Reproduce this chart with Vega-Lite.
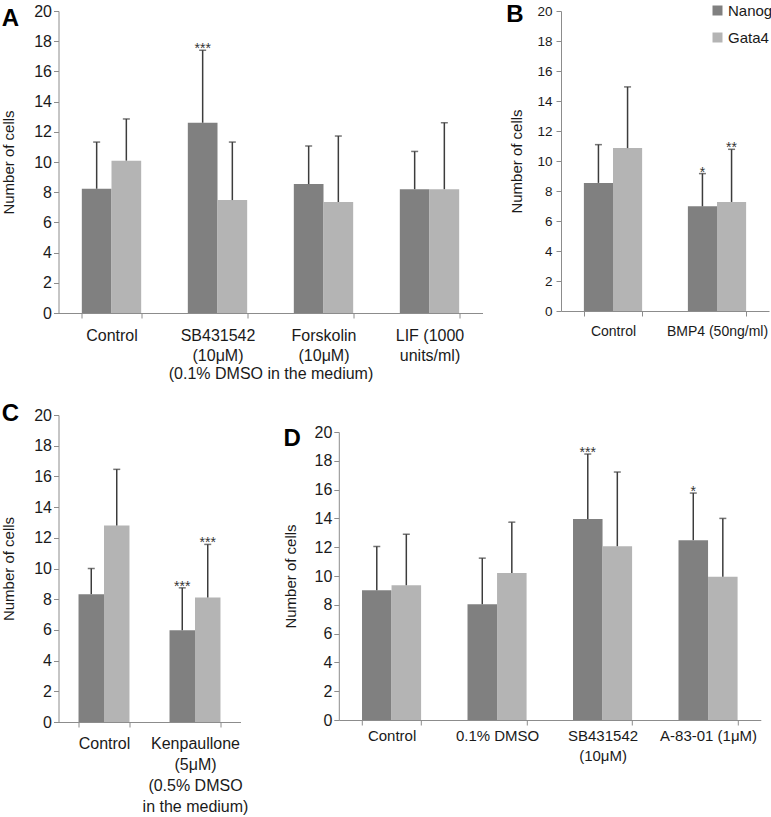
{
  "$schema": "https://vega.github.io/schema/vega-lite/v6.json",
  "padding": {"left": 1.5, "top": 2, "right": 0, "bottom": 0},
  "background": "white",
  "config": {
    "font": "Liberation Sans",
    "view": {"stroke": null},
    "axis": {"domainColor": "#8c8c8c", "tickColor": "#8c8c8c", "labelColor": "#1a1a1a", "titleColor": "#1a1a1a", "labelFontSize": 16, "titleFontSize": 15, "titleFontWeight": "normal", "grid": false, "tickSize": 5, "labelFont": "Liberation Sans", "titleFont": "Liberation Sans"},
    "axisX": {"tickBand": "extent", "labelAngle": 0, "labelPadding": 8, "labelLineHeight": 20, "labelLimit": 0, "labelOverlap": false, "labelFlush": false, "titlePadding": 2},
    "axisY": {"labelPadding": 2, "titlePadding": 17, "labelFontSize": 16, "values": [0, 2, 4, 6, 8, 10, 12, 14, 16, 18, 20]},
    "title": {"fontSize": 24, "fontWeight": "bold", "anchor": "start", "frame": "bounds", "color": "#000000", "offset": 0, "baseline": "top", "font": "Liberation Sans"}
  },
  "datasets": {
    "A": [
      {"cat": "Control", "gene": "Nanog", "mean": 8.23, "upper": 11.32, "sig": ""},
      {"cat": "Control", "gene": "Gata4", "mean": 10.09, "upper": 12.85, "sig": ""},
      {"cat": "SB431542|(10μM)", "gene": "Nanog", "mean": 12.6, "upper": 17.4, "sig": "***"},
      {"cat": "SB431542|(10μM)", "gene": "Gata4", "mean": 7.48, "upper": 11.32, "sig": ""},
      {"cat": "Forskolin|(10μM)", "gene": "Nanog", "mean": 8.54, "upper": 11.06, "sig": ""},
      {"cat": "Forskolin|(10μM)", "gene": "Gata4", "mean": 7.35, "upper": 11.72, "sig": ""},
      {"cat": "LIF (1000|units/ml)", "gene": "Nanog", "mean": 8.2, "upper": 10.7, "sig": ""},
      {"cat": "LIF (1000|units/ml)", "gene": "Gata4", "mean": 8.2, "upper": 12.6, "sig": ""}
    ],
    "B": [
      {"cat": "Control", "gene": "Nanog", "mean": 8.54, "upper": 11.09, "sig": ""},
      {"cat": "Control", "gene": "Gata4", "mean": 10.86, "upper": 14.94, "sig": ""},
      {"cat": "BMP4 (50ng/ml)", "gene": "Nanog", "mean": 6.98, "upper": 9.16, "sig": "*"},
      {"cat": "BMP4 (50ng/ml)", "gene": "Gata4", "mean": 7.27, "upper": 10.78, "sig": "**"}
    ],
    "C": [
      {"cat": "Control", "gene": "Nanog", "mean": 8.33, "upper": 10.0, "sig": ""},
      {"cat": "Control", "gene": "Gata4", "mean": 12.8, "upper": 16.46, "sig": ""},
      {"cat": "Kenpaullone|(5μM)|(0.5% DMSO|in the medium)", "gene": "Nanog", "mean": 5.98, "upper": 8.74, "sig": "***"},
      {"cat": "Kenpaullone|(5μM)|(0.5% DMSO|in the medium)", "gene": "Gata4", "mean": 8.11, "upper": 11.57, "sig": "***"}
    ],
    "D": [
      {"cat": "Control", "gene": "Nanog", "mean": 9.01, "upper": 12.05, "sig": ""},
      {"cat": "Control", "gene": "Gata4", "mean": 9.36, "upper": 12.9, "sig": ""},
      {"cat": "0.1% DMSO", "gene": "Nanog", "mean": 8.04, "upper": 11.24, "sig": ""},
      {"cat": "0.1% DMSO", "gene": "Gata4", "mean": 10.2, "upper": 13.74, "sig": ""},
      {"cat": "SB431542|(10μM)", "gene": "Nanog", "mean": 13.95, "upper": 18.47, "sig": "***"},
      {"cat": "SB431542|(10μM)", "gene": "Gata4", "mean": 12.07, "upper": 17.22, "sig": ""},
      {"cat": "A-83-01 (1μM)", "gene": "Nanog", "mean": 12.49, "upper": 15.76, "sig": "*"},
      {"cat": "A-83-01 (1μM)", "gene": "Gata4", "mean": 9.94, "upper": 14.0, "sig": ""}
    ],
    "empty": []
  },
  "resolve": {"scale": {"x": "independent", "y": "independent", "xOffset": "independent", "color": "independent"}, "legend": {"color": "independent"}},
  "spacing": 20,
  "vconcat": [
    {
      "spacing": 23.5,
      "resolve": {"scale": {"x": "independent", "y": "independent", "xOffset": "independent", "color": "independent"}, "legend": {"color": "independent"}},
      "hconcat": [
        {
          "width": 424, "height": 302,
          "data": {"name": "A"},
          "title": {"text": "A", "dx": 0, "dy": 31.5},
          "encoding": {
            "x": {"field": "cat", "type": "nominal", "sort": null, "scale": {"paddingInner": 0.44, "paddingOuter": 0.22}, "axis": {"labelExpr": "isValid(datum.value) ? split(datum.value, '|') : ''", "labelFontSize": 16, "labelPadding": 9.5, "title": "(0.1% DMSO in the medium)", "titleFontSize": 16}},
            "xOffset": {"field": "gene", "type": "nominal", "sort": ["Nanog", "Gata4"], "scale": {"paddingInner": 0, "paddingOuter": 0}}
          },
          "layer": [
            {"mark": {"type": "bar"}, "encoding": {"y": {"field": "mean", "type": "quantitative", "scale": {"domain": [0, 20]}, "title": "Number of cells"}, "color": {"field": "gene", "type": "nominal", "scale": {"domain": ["Nanog", "Gata4"], "range": ["#808080", "#b4b4b4"]}, "legend": null}}},
            {"mark": {"type": "rule", "color": "#3c3c3c", "strokeWidth": 1.5}, "encoding": {"y": {"field": "mean", "type": "quantitative", "title": "Number of cells"}, "y2": {"field": "upper"}}},
            {"mark": {"type": "tick", "color": "#3c3c3c", "thickness": 1.5, "size": 7}, "encoding": {"y": {"field": "upper", "type": "quantitative", "title": "Number of cells"}}},
            {"mark": {"type": "text", "fontSize": 14, "dy": 3, "baseline": "alphabetic", "color": "#333333"}, "encoding": {"y": {"field": "upper", "type": "quantitative", "title": "Number of cells"}, "text": {"field": "sig"}}}
          ]
        },
        {
          "width": 208, "height": 300,
          "data": {"name": "B"},
          "title": {"text": "B", "dx": -3, "dy": 27.8},
          "encoding": {
            "x": {"field": "cat", "type": "nominal", "sort": null, "scale": {"paddingInner": 0.44, "paddingOuter": 0.22}, "axis": {"labelExpr": "isValid(datum.value) ? split(datum.value, '|') : ''", "labelFontSize": 14, "labelPadding": 8, "title": null}},
            "xOffset": {"field": "gene", "type": "nominal", "sort": ["Nanog", "Gata4"], "scale": {"paddingInner": 0, "paddingOuter": 0}}
          },
          "layer": [
            {"mark": {"type": "bar"}, "encoding": {"y": {"field": "mean", "type": "quantitative", "scale": {"domain": [0, 20]}, "title": "Number of cells", "axis": {"labelFontSize": 13.5, "labelPadding": 4, "titlePadding": 12.8}}, "color": {"field": "gene", "type": "nominal", "sort": ["Nanog", "Gata4"], "scale": {"domain": ["Nanog", "Gata4"], "range": ["#808080", "#b4b4b4"]}, "legend": {"orient": "none", "legendX": 149, "legendY": -8, "title": null, "symbolType": "square", "symbolSize": 100, "symbolStrokeWidth": 0, "labelFontSize": 15, "labelColor": "#1a1a1a", "rowPadding": 11, "labelOffset": 3, "padding": 0}}}},
            {"mark": {"type": "rule", "color": "#3c3c3c", "strokeWidth": 1.5}, "encoding": {"y": {"field": "mean", "type": "quantitative", "title": "Number of cells"}, "y2": {"field": "upper"}}},
            {"mark": {"type": "tick", "color": "#3c3c3c", "thickness": 1.5, "size": 7}, "encoding": {"y": {"field": "upper", "type": "quantitative", "title": "Number of cells"}}},
            {"mark": {"type": "text", "fontSize": 14, "dy": 3, "baseline": "alphabetic", "color": "#333333"}, "encoding": {"y": {"field": "upper", "type": "quantitative", "title": "Number of cells"}, "text": {"field": "sig"}}}
          ]
        }
      ]
    },
    {
      "spacing": 34.3,
      "resolve": {"scale": {"x": "independent", "y": "independent", "xOffset": "independent", "color": "independent"}, "legend": {"color": "independent"}},
      "hconcat": [
        {
          "width": 182, "height": 307,
          "data": {"name": "C"},
          "title": {"text": "C", "dx": 0, "dy": 23},
          "encoding": {
            "x": {"field": "cat", "type": "nominal", "sort": null, "scale": {"paddingInner": 0.44, "paddingOuter": 0.22}, "axis": {"labelExpr": "isValid(datum.value) ? split(datum.value, '|') : ''", "labelFontSize": 16, "labelPadding": 8, "labelLineHeight": 21.3, "title": null}},
            "xOffset": {"field": "gene", "type": "nominal", "sort": ["Nanog", "Gata4"], "scale": {"paddingInner": 0, "paddingOuter": 0}}
          },
          "layer": [
            {"mark": {"type": "bar"}, "encoding": {"y": {"field": "mean", "type": "quantitative", "scale": {"domain": [0, 20]}, "title": "Number of cells"}, "color": {"field": "gene", "type": "nominal", "scale": {"domain": ["Nanog", "Gata4"], "range": ["#808080", "#b4b4b4"]}, "legend": null}}},
            {"mark": {"type": "rule", "color": "#3c3c3c", "strokeWidth": 1.5}, "encoding": {"y": {"field": "mean", "type": "quantitative", "title": "Number of cells"}, "y2": {"field": "upper"}}},
            {"mark": {"type": "tick", "color": "#3c3c3c", "thickness": 1.5, "size": 7}, "encoding": {"y": {"field": "upper", "type": "quantitative", "title": "Number of cells"}}},
            {"mark": {"type": "text", "fontSize": 14, "dy": 3, "baseline": "alphabetic", "color": "#333333"}, "encoding": {"y": {"field": "upper", "type": "quantitative", "title": "Number of cells"}, "text": {"field": "sig"}}}
          ]
        },
        {
          "spacing": 0,
          "resolve": {"scale": {"x": "independent", "y": "independent", "xOffset": "independent", "color": "independent"}, "legend": {"color": "independent"}},
          "vconcat": [
            {"width": 10, "height": 8.3, "data": {"name": "empty"}, "mark": {"type": "point"}, "encoding": {}},
            {
              "width": 422, "height": 288,
              "data": {"name": "D"},
              "title": {"text": "D", "dx": 0, "dy": 31},
              "encoding": {
                "x": {"field": "cat", "type": "nominal", "sort": null, "scale": {"paddingInner": 0.44, "paddingOuter": 0.22}, "axis": {"labelExpr": "isValid(datum.value) ? split(datum.value, '|') : ''", "labelFontSize": 15, "labelPadding": 3, "title": null}},
                "xOffset": {"field": "gene", "type": "nominal", "sort": ["Nanog", "Gata4"], "scale": {"paddingInner": 0, "paddingOuter": 0}}
              },
              "layer": [
                {"mark": {"type": "bar"}, "encoding": {"y": {"field": "mean", "type": "quantitative", "scale": {"domain": [0, 20]}, "title": "Number of cells", "axis": {"titlePadding": 15.6}}, "color": {"field": "gene", "type": "nominal", "scale": {"domain": ["Nanog", "Gata4"], "range": ["#808080", "#b4b4b4"]}, "legend": null}}},
                {"mark": {"type": "rule", "color": "#3c3c3c", "strokeWidth": 1.5}, "encoding": {"y": {"field": "mean", "type": "quantitative", "title": "Number of cells"}, "y2": {"field": "upper"}}},
                {"mark": {"type": "tick", "color": "#3c3c3c", "thickness": 1.5, "size": 7}, "encoding": {"y": {"field": "upper", "type": "quantitative", "title": "Number of cells"}}},
                {"mark": {"type": "text", "fontSize": 14, "dy": 3, "baseline": "alphabetic", "color": "#333333"}, "encoding": {"y": {"field": "upper", "type": "quantitative", "title": "Number of cells"}, "text": {"field": "sig"}}}
              ]
            }
          ]
        }
      ]
    }
  ]
}
